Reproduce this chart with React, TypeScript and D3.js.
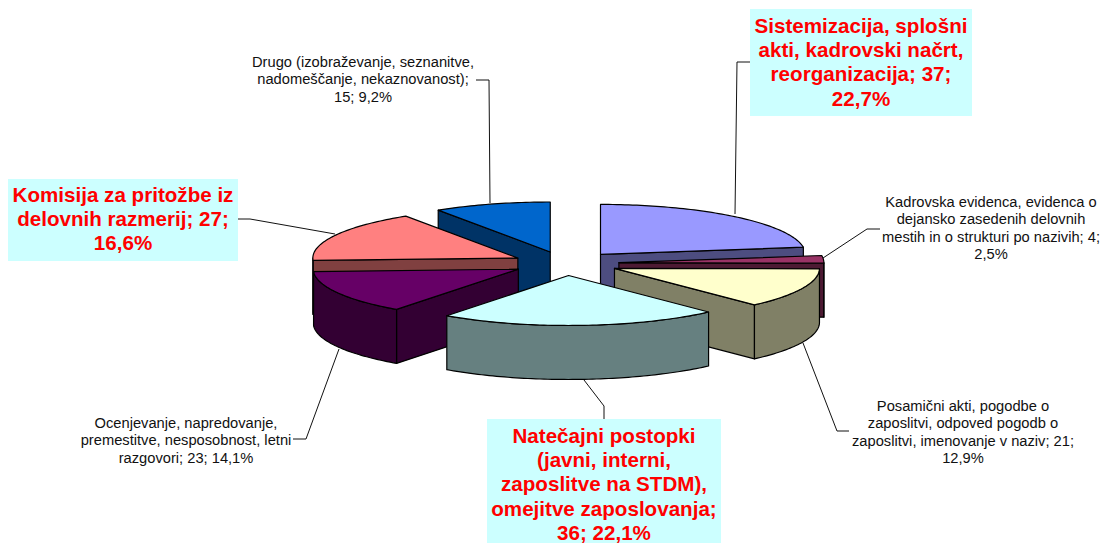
import React from "react";
import * as d3 from "d3";

const names = ["Sistemizacija", "Kadrovska", "Posamicni", "Natecajni", "Ocenjevanje", "Komisija", "Drugo"];
const values = [37, 4, 21, 36, 23, 27, 15];
const topColors = ["#9999FF", "#993366", "#FFFFCC", "#CCFFFF", "#660066", "#FF8080", "#0066CC"];
const sideColors = ["#4D4D80", "#4D1A33", "#808066", "#668080", "#330033", "#804040", "#003366"];
const paintOrder = [6, 0, 1, 5, 4, 2, 3];

const boxedLabels = [
  { x: 750, y: 9, w: 222, h: 107, cx: 861, base: 33, lines: ["Sistemizacija, splošni", "akti, kadrovski načrt,", "reorganizacija; 37;", "22,7%"] },
  { x: 8, y: 179, w: 230, h: 82, cx: 123, base: 202, lines: ["Komisija za pritožbe iz", "delovnih razmerij; 27;", "16,6%"] },
  { x: 487, y: 419, w: 234, h: 124, cx: 604, base: 443, lines: ["Natečajni postopki", "(javni, interni,", "zaposlitve na STDM),", "omejitve zaposlovanja;", "36; 22,1%"] },
];
const plainLabels = [
  { cx: 991, base: 207, lines: ["Kadrovska evidenca, evidenca o", "dejansko zasedenih delovnih", "mestih in o strukturi po nazivih; 4;", "2,5%"] },
  { cx: 363, base: 67, lines: ["Drugo (izobraževanje, seznanitve,", "nadomeščanje, nekaznovanost);", "15; 9,2%"] },
  { cx: 186, base: 428, lines: ["Ocenjevanje, napredovanje,", "premestitve, nesposobnost, letni", "razgovori; 23; 14,1%"] },
  { cx: 963, base: 411, lines: ["Posamični akti, pogodbe o", "zaposlitvi, odpoved pogodb o", "zaposlitvi, imenovanje v naziv; 21;", "12,9%"] },
];
const leaders: [number, number][][] = [
  [[750, 62], [737, 62], [735, 214]],
  [[880, 229], [867, 229], [823, 258]],
  [[849, 431], [837, 431], [803, 343]],
  [[604, 419], [604, 406], [584, 380]],
  [[293, 439], [306, 439], [339, 349]],
  [[238, 219], [250, 219], [335, 234]],
  [[476, 80], [489, 80], [490, 203]],
];

const cx0 = 565.5;
const cy0 = 263.5;
const rx = 205;
const ry = 50;
const explodeX = 53.5;
const explodeY = 12;
const depth = 54;

const pieGen = d3.pie<number>().sort(null).value((d) => d).startAngle(0).endAngle(2 * Math.PI);
const arcs = pieGen(values);
const line = d3.line<[number, number]>().curve(d3.curveLinear);

function sample(a0: number, a1: number): number[] {
  const n = Math.max(2, Math.ceil((a1 - a0) / 0.02));
  return d3.range(n + 1).map((i) => a0 + ((a1 - a0) * i) / n);
}

function App() {
  const slices = arcs.map((a, i) => {
    const mid = (a.startAngle + a.endAngle) / 2;
    const cx = cx0 + Math.sin(mid) * explodeX;
    const cy = cy0 - Math.cos(mid) * explodeY;
    const P = (t: number, dz = 0): [number, number] => [cx + Math.sin(t) * rx, cy - Math.cos(t) * ry + dz];
    const a0 = a.startAngle;
    const a1 = a.endAngle;
    const top = line([[cx, cy], ...sample(a0, a1).map((t) => P(t))]) + "Z";
    const walls: string[] = [];
    if (Math.sin(a0) < -1e-6) {
      walls.push(line([[cx, cy], P(a0), P(a0, depth), [cx, cy + depth]]) + "Z");
    }
    if (Math.sin(a1) > 1e-6) {
      walls.push(line([[cx, cy], P(a1), P(a1, depth), [cx, cy + depth]]) + "Z");
    }
    const f0 = Math.max(a0, Math.PI / 2);
    const f1 = Math.min(a1, (3 * Math.PI) / 2);
    if (f1 > f0) {
      const ts = sample(f0, f1);
      walls.push(line([...ts.map((t) => P(t)), ...ts.slice().reverse().map((t) => P(t, depth))]) + "Z");
    }
    return { i, top, walls };
  });

  return (
    <svg width={1105} height={543} style={{ position: "absolute", left: 0, top: 0, background: "#fff" }}>
      {paintOrder.map((i) => {
        const s = slices[i];
        return (
          <g key={names[i]} stroke="#000" strokeWidth={1.2} strokeLinejoin="round">
            {s.walls.map((d, k) => (
              <path key={k} d={d} fill={sideColors[i]} />
            ))}
            <path d={s.top} fill={topColors[i]} />
          </g>
        );
      })}
      <g fill="none" stroke="#111" strokeWidth={1}>
        {leaders.map((l, i) => (
          <path key={i} d={line(l) ?? ""} />
        ))}
      </g>
      {boxedLabels.map((b) => (
        <g key={b.cx}>
          <rect x={b.x} y={b.y} width={b.w} height={b.h} fill="#CCFFFF" />
          <text textAnchor="middle" fontFamily="'Liberation Sans', Arial, sans-serif" fontWeight="bold" fontSize={20.6} fill="#FF0000">
            {b.lines.map((t, i) => (
              <tspan key={i} x={b.cx} y={b.base + i * 24.2}>{t}</tspan>
            ))}
          </text>
        </g>
      ))}
      {plainLabels.map((b) => (
        <text key={b.cx} textAnchor="middle" fontFamily="'Liberation Sans', Arial, sans-serif" fontSize={14.7} fill="#111">
          {b.lines.map((t, i) => (
            <tspan key={i} x={b.cx} y={b.base + i * 17.3}>{t}</tspan>
          ))}
        </text>
      ))}
    </svg>
  );
}

export default App;
